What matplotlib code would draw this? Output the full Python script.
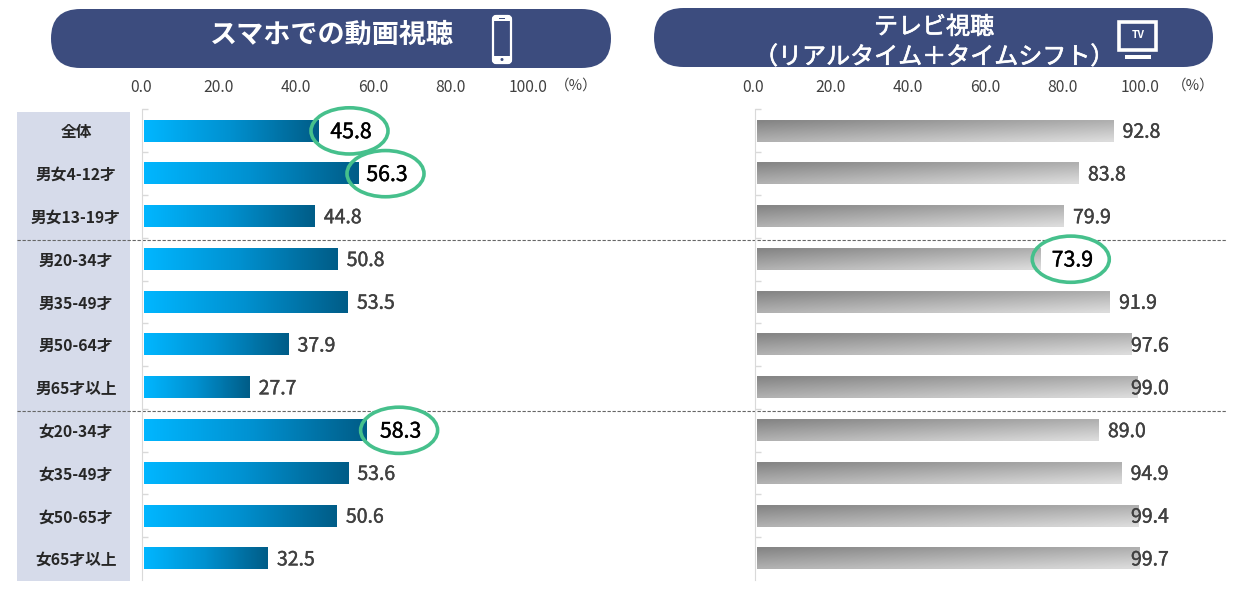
import numpy as np
from matplotlib import pyplot as plt
from matplotlib import patheffects as pe
from matplotlib.colors import LinearSegmentedColormap
from matplotlib.patches import Ellipse, FancyBboxPatch, Rectangle

plt.rcParams['font.family'] = ['Noto Sans CJK JP', 'DejaVu Sans']

categories = ['全体', '男女4-12才', '男女13-19才', '男20-34才', '男35-49才', '男50-64才',
              '男65才以上', '女20-34才', '女35-49才', '女50-65才', '女65才以上']
phone_values = [45.8, 56.3, 44.8, 50.8, 53.5, 37.9, 27.7, 58.3, 53.6, 50.6, 32.5]
tv_values = [92.8, 83.8, 79.9, 73.9, 91.9, 97.6, 99.0, 89.0, 94.9, 99.4, 99.7]
tick_values = [0, 20, 40, 60, 80, 100]

# row index -> how far right of the bar end the circle sits, in pixels
phone_marked = {0: 31, 1: 27, 7: 33}
tv_marked = {3: 30}

W, H = 1243, 589
NAVY = '#3c4c7e'
GREEN = '#46c08c'


def px_axes(x0, x1, y0, y1):
    return fig.add_axes([x0 / W, 1 - y1 / H, (x1 - x0) / W, (y1 - y0) / H])


def draw_bars(ax, values, grad, cmap_colors):
    cmap = LinearSegmentedColormap.from_list('g', cmap_colors)
    for i, v in enumerate(values):
        ax.imshow(grad, extent=(0, v, i + 0.25, i - 0.25), cmap=cmap, vmin=0, vmax=1,
                  aspect='auto', interpolation='bilinear', zorder=2)
    ax.set_xlim(0, 100)
    ax.set_ylim(len(values) - 0.5, -0.5)
    ax.patch.set_alpha(0)
    for s in ['top', 'right', 'bottom']:
        ax.spines[s].set_visible(False)
    ax.spines['left'].set_color('#d9d9d9')
    ax.spines['left'].set_position(('outward', 1.5))
    ax.set_xticks([])
    ax.set_yticks(np.arange(len(values)) - 0.5)
    ax.set_yticklabels([])
    ax.tick_params(axis='y', direction='in', length=4, color='#d9d9d9', width=1)


def draw_labels(ax, values, marked, px_per_unit):
    for i, v in enumerate(values):
        if i in marked:
            cx = v + marked[i] / px_per_unit
            w = 77 / px_per_unit
            ax.add_patch(Ellipse((cx, i), w, 1.08, fc='white', ec='none', zorder=1, clip_on=False))
            ax.add_patch(Ellipse((cx, i), w, 1.08, fc='none', ec=GREEN, lw=2.6, zorder=5, clip_on=False))
            ax.text(cx + 0.4, i + 0.03, f'{v:.1f}', fontsize=15.3, color='black', va='center', ha='center',
                    zorder=6, path_effects=[pe.withStroke(linewidth=0.3, foreground='black')])
        else:
            # labels of the longest bars stop at the plot edge and overlap the bar
            ax.text(min(v + 2.4, 97.4), i + 0.03, f'{v:.1f}', fontsize=14, color='#404040', va='center',
                    ha='left', zorder=4, clip_on=False,
                    path_effects=[pe.withStroke(linewidth=0.3, foreground='#404040')])


def draw_ticks(x0, x1):
    ax = px_axes(x0, x1, 80, 90)
    ax.set_xlim(0, 100)
    ax.set_yticks([])
    ax.set_xticks(tick_values)
    ax.set_xticklabels([f'{t:.1f}' for t in tick_values], fontsize=11.3, color='#404040')
    ax.tick_params(axis='x', length=0, pad=-11.5)
    ax.xaxis.set_ticks_position('top')
    ax.patch.set_alpha(0)
    for s in ax.spines.values():
        s.set_visible(False)
    return ax


fig = plt.figure(figsize=(W / 100, H / 100), dpi=100)

bg = fig.add_axes([0, 0, 1, 1])
bg.set_xlim(0, W)
bg.set_ylim(H, 0)
bg.axis('off')

for x0, x1, y0, y1 in [(51, 611, 9, 68), (654, 1213, 8, 67)]:
    r = (y1 - y0) / 2
    bg.add_patch(FancyBboxPatch((x0, y0), x1 - x0, y1 - y0,
                                boxstyle=f'round,pad=0,rounding_size={r}', fc=NAVY, ec='none'))

bg.text(332, 35, 'スマホでの動画視聴', color='white', fontsize=19.5, fontweight='bold',
        ha='center', va='center')
bg.text(934, 42, 'テレビ視聴\n（リアルタイム＋タイムシフト）', color='white', fontsize=17.3,
        ha='center', va='center', linespacing=1.2,
        path_effects=[pe.withStroke(linewidth=0.5, foreground='white')])

# phone icon
bg.add_patch(FancyBboxPatch((493, 16), 18, 47, boxstyle='round,pad=0,rounding_size=3',
                            fc=NAVY, ec='white', lw=1.6))
bg.add_patch(Rectangle((493, 17), 18, 4, fc='white', ec='none'))
bg.add_patch(Rectangle((493, 56), 18, 7, fc='white', ec='none'))
bg.add_patch(Rectangle((499, 18), 6, 1.2, fc=NAVY, ec='none'))
bg.add_patch(Ellipse((502, 59.5), 3, 3, fc=NAVY, ec='none'))

# tv icon
bg.add_patch(Rectangle((1119.5, 21.5), 37, 28, fc=NAVY, ec='white', lw=2.6))
bg.add_patch(Rectangle((1125, 55), 26, 3.5, fc='white', ec='none'))
bg.text(1138, 35, 'TV', color='white', fontsize=7.5, fontweight='bold', ha='center', va='center')

# category column
bg.add_patch(Rectangle((17, 112), 113, 469, fc='#d6dbea', ec='none'))

ax1 = px_axes(144, 525, 109.5, 580)
ax2 = px_axes(757, 1141, 109.5, 580)

for i, c in enumerate(categories):
    yc = 109.5 + (i + 0.5) * (580 - 109.5) / len(categories)
    bg.text(76, yc + 1.5, c, fontsize=11.3, fontweight='bold', color='#262626', ha='center', va='center')

for yl in [239.5, 411]:
    bg.plot([17, 1227], [yl, yl], color='#666666', lw=0.8, ls=(0, (3, 1.5)))

xx, yy = np.meshgrid(np.linspace(0, 1, 64), np.linspace(0, 1, 8))
draw_bars(ax1, phone_values, xx, ['#00b6ff', '#0090cf', '#005d88'])
draw_bars(ax2, tv_values, 0.5 * xx + 0.5 * yy, ['#858585', '#b0b0b0', '#dcdcdc'])
draw_labels(ax1, phone_values, phone_marked, 3.81)
draw_labels(ax2, tv_values, tv_marked, 3.84)

draw_ticks(141, 528)
draw_ticks(753, 1140)
bg.text(576, 85.5, '（%）', fontsize=10.5, color='#404040', ha='center', va='center')
bg.text(1193, 85.5, '（%）', fontsize=10.5, color='#404040', ha='center', va='center')

fig.savefig('out.png', dpi=100)
